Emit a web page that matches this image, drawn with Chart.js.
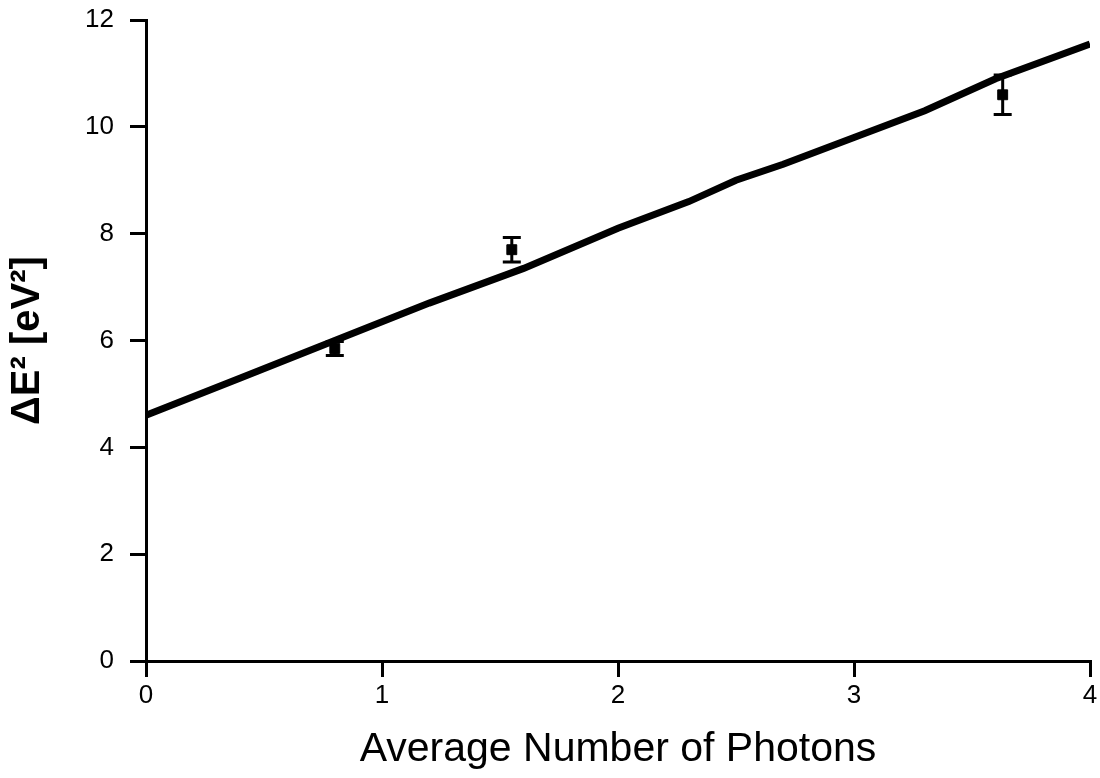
<!DOCTYPE html>
<html lang="en">
<head>
  <meta charset="UTF-8">
  <title>Delta E squared vs average number of photons</title>
  <script src="https://cdn.jsdelivr.net/npm/chart.js@4.4.1/dist/chart.umd.min.js"></script>
  <style>
    html, body { margin: 0; padding: 0; background: #fff; }
    #wrap { width: 1100px; height: 778px; position: relative; }
  </style>
</head>
<body>
  <div id="wrap"><canvas id="chart"></canvas></div>

  <script>
    // measured points (x = average photon number, y = ΔE² in eV²)
    const photons = [0.8, 1.55, 3.63];
    const deltaE2 = [5.85, 7.7, 10.6];
    const errors = [0.13, 0.23, 0.37];

    // fitted curve
    const fitX = [0, 0.4, 0.8, 1.2, 1.6, 2.0, 2.3, 2.5, 2.7, 3.0, 3.3, 3.6, 4.0];
    const fitY = [4.6, 5.3, 6.0, 6.7, 7.35, 8.1, 8.6, 9.0, 9.3, 9.8, 10.3, 10.9, 11.55];

    const xTicks = [0, 1, 2, 3, 4];
    const yTicks = [0, 2, 4, 6, 8, 10, 12];

    const pointData = photons.map((x, i) => ({ x: x, y: deltaE2[i], err: errors[i] }));
    const fitData = fitX.map((x, i) => ({ x: x, y: fitY[i] }));

    // draw vertical error bars with caps
    const errorBars = {
      id: 'errorBars',
      beforeDatasetDraw(chart, args) {
        if (args.index !== 1) return;
        const { ctx, scales: { x, y } } = chart;
        ctx.save();
        ctx.strokeStyle = '#000';
        ctx.lineWidth = 3;
        pointData.forEach(p => {
          const px = x.getPixelForValue(p.x);
          const top = y.getPixelForValue(p.y + p.err);
          const bot = y.getPixelForValue(p.y - p.err);
          ctx.beginPath();
          ctx.moveTo(px, top); ctx.lineTo(px, bot);
          ctx.moveTo(px - 9, top); ctx.lineTo(px + 9, top);
          ctx.moveTo(px - 9, bot); ctx.lineTo(px + 9, bot);
          ctx.stroke();
        });
        ctx.restore();
      }
    };

    const font = 'Liberation Sans, Arial, Helvetica, sans-serif';

    new Chart(document.getElementById('chart'), {
      type: 'scatter',
      data: {
        datasets: [{
          type: 'line',
          data: fitData,
          borderColor: '#000',
          borderWidth: 7,
          pointRadius: 0,
          tension: 0,
          fill: false,
          order: 1
        }, {
          data: pointData,
          pointStyle: 'rect',
          pointRadius: 7,
          backgroundColor: '#000',
          borderColor: '#000',
          borderWidth: 1,
          order: 2
        }]
      },
      plugins: [errorBars],
      options: {
        responsive: true,
        maintainAspectRatio: false,
        animation: false,
        events: [],
        layout: { padding: { top: 20, right: 10, left: 0, bottom: 0 } },
        plugins: { legend: { display: false }, tooltip: { enabled: false } },
        scales: {
          x: {
            type: 'linear',
            min: 0, max: 4,
            afterBuildTicks: s => { s.ticks = xTicks.map(v => ({ value: v })); },
            afterFit: s => { s.height = 117; s.paddingLeft = 0; s.paddingRight = 0; },
            grid: { drawOnChartArea: false, drawTicks: true, tickLength: 16, color: '#000', lineWidth: 3 },
            border: { display: true, color: '#000', width: 3 },
            ticks: { color: '#000', font: { family: font, size: 26 }, padding: 3, maxRotation: 0 },
            title: {
              display: true,
              text: 'Average Number of Photons',
              color: '#000',
              font: { family: font, size: 41 },
              padding: { top: 2 }
            }
          },
          y: {
            type: 'linear',
            min: 0, max: 12,
            afterBuildTicks: s => { s.ticks = yTicks.map(v => ({ value: v })); },
            afterFit: s => { s.width = 146; s.paddingTop = 0; s.paddingBottom = 0; },
            grid: { drawOnChartArea: false, drawTicks: true, tickLength: 16, color: '#000', lineWidth: 3 },
            border: { display: true, color: '#000', width: 3 },
            ticks: { color: '#000', font: { family: font, size: 26 }, padding: 16 },
            title: {
              display: true,
              text: 'ΔE² [eV²]',
              color: '#000',
              font: { family: font, size: 40, weight: 'bold' },
              padding: { bottom: 6 }
            }
          }
        }
      }
    });
  </script>
</body>
</html>
